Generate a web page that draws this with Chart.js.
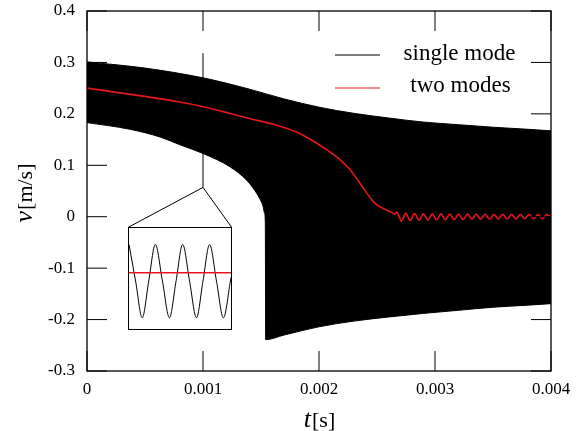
<!DOCTYPE html>
<html>
<head>
<meta charset="utf-8">
<script src="https://cdn.jsdelivr.net/npm/chart.js@4.4.1/dist/chart.umd.min.js"></script>
<style>
  html, body { margin: 0; padding: 0; background: #fff; }
  #wrap { position: relative; width: 577px; height: 431px; }
  #inset { position: absolute; border: 1px solid #000; background: #fff; box-sizing: border-box; }
  #inset canvas { display: block; }
</style>
</head>
<body>
<div id="wrap">
  <canvas id="main" width="577" height="431"></canvas>
  <div id="inset"><canvas id="zoom"></canvas></div>
</div>
<script>
// tick values
const xTicks = [0, 0.001, 0.002, 0.003, 0.004];
const yTicks = [-0.3, -0.2, -0.1, 0, 0.1, 0.2, 0.3, 0.4];

// single mode: the fast oscillation is only seen as a band, so keep its upper and lower edges
const upperT = [0, 0.0005, 0.001, 0.0014, 0.0017, 0.002, 0.0023, 0.0026, 0.0029, 0.0032, 0.0035, 0.0038, 0.004];
const upperV = [0.301, 0.289, 0.270, 0.248, 0.229, 0.213, 0.201, 0.192, 0.184, 0.179, 0.174, 0.170, 0.167];
const lowerT = [0, 0.00037, 0.00063, 0.0008, 0.001, 0.001233, 0.001379, 0.001431, 0.001491, 0.001517, 0.00153, 0.001537, 0.001541,
  0.0017, 0.002, 0.0023, 0.0026, 0.0029, 0.0032, 0.0035, 0.0038, 0.004];
const lowerV = [0.183, 0.170, 0.155, 0.140, 0.123, 0.097, 0.0705, 0.056, 0.0344, 0.0208, 0.0072, -0.0103, -0.239,
  -0.230, -0.214, -0.203, -0.195, -0.188, -0.182, -0.176, -0.172, -0.169];

// two modes (red curve)
const twoT = [0, 0.0005, 0.0008, 0.001, 0.00123, 0.0014, 0.0016, 0.0018, 0.00192, 0.0021, 0.00216, 0.00227,
  0.00235, 0.00247, 0.0025, 0.00259, 0.00264, 0.002655, 0.00267, 0.002684,
  0.00271, 0.002748, 0.002786, 0.002824, 0.002862, 0.0029, 0.002938, 0.002976, 0.003014, 0.003052,
  0.00309, 0.003128, 0.003166, 0.003204, 0.003242, 0.00328, 0.003318, 0.003356, 0.003394, 0.003432,
  0.00347, 0.003508, 0.003546, 0.003584, 0.003622, 0.00366, 0.003698, 0.003736, 0.003774, 0.003812,
  0.00385, 0.003888, 0.003926, 0.003964, 0.004];
const twoV = [0.250, 0.234, 0.223, 0.214, 0.201, 0.191, 0.180, 0.165, 0.151, 0.125, 0.115, 0.091,
  0.066, 0.029, 0.023, 0.012, 0.007, 0.005, 0.009, 0.004,
  -0.0085, 0.0065, -0.0075, 0.006, -0.007, 0.0058, -0.0065, 0.0055, -0.006, 0.0055,
  -0.006, 0.005, -0.0055, 0.005, -0.0055, 0.005, -0.005, 0.0048, -0.005, 0.0048,
  -0.005, 0.0045, -0.0045, 0.0045, -0.0045, 0.0045, -0.0045, 0.0042, -0.004, 0.0042,
  -0.004, 0.004, -0.004, 0.004, 0.0];

// inset: a few periods of the single-mode signal, local units
const insetX = [0, 6.7, 13.4, 20, 26.7, 33.9, 41, 47.7, 54.4, 61.4, 68.4, 75, 81.7, 88.7, 95.7, 102.8, 103.4];
const insetSingle = [1, 0, -1, 0, 1, 0, -1, 0, 1, 0, -1, 0, 1, 0, -1, 0, 0.1];
const insetTwoX = [0, 103.4];
const insetTwo = [0.23, 0.23];

const RED = 'rgb(232,22,26)';
const serif = "'Liberation Serif', 'Times New Roman', serif";
Chart.defaults.font.family = serif;
Chart.defaults.color = '#000';

// where the zoom box and its pointer sit, in data units of the main plot
const insetFrame = { t0: 0.000356, t1: 0.001247, vTop: -0.0206, vBot: -0.220 };
const pointer = { t: 0.001, vApex: 0.057, vTop: 0.318 };

const pts = (xs, ys) => xs.map((x, i) => ({ x: x, y: ys[i] }));

const frame = {
  id: 'frame',
  beforeDatasetsDraw(c) {
    const ctx = c.ctx, xs = c.scales.x, ys = c.scales.y;
    const ax = xs.getPixelForValue(pointer.t), ay = ys.getPixelForValue(pointer.vApex);
    const l = xs.getPixelForValue(insetFrame.t0), r = xs.getPixelForValue(insetFrame.t1);
    const t = ys.getPixelForValue(insetFrame.vTop);
    ctx.save();
    ctx.strokeStyle = '#000';
    ctx.lineWidth = 1;
    ctx.beginPath();
    ctx.moveTo(ax, ys.getPixelForValue(pointer.vTop));
    ctx.lineTo(ax, ay);
    ctx.moveTo(l, t); ctx.lineTo(ax, ay); ctx.lineTo(r, t);
    ctx.stroke();
    ctx.restore();
  },
  afterDatasetsDraw(c) {
    const ctx = c.ctx, a = c.chartArea, xs = c.scales.x, ys = c.scales.y;
    ctx.save();
    ctx.strokeStyle = '#000';
    ctx.lineWidth = 1;
    ctx.beginPath();
    xTicks.forEach(v => {
      const p = xs.getPixelForValue(v);
      ctx.moveTo(p, a.bottom); ctx.lineTo(p, a.bottom - 20);
      ctx.moveTo(p, a.top); ctx.lineTo(p, a.top + 20);
    });
    yTicks.forEach(v => {
      const p = ys.getPixelForValue(v);
      ctx.moveTo(a.left, p); ctx.lineTo(a.left + 20, p);
      ctx.moveTo(a.right, p); ctx.lineTo(a.right - 20, p);
    });
    ctx.stroke();
    ctx.lineWidth = 1.3;
    ctx.strokeRect(a.left, a.top, a.right - a.left, a.bottom - a.top);
    ctx.restore();
  },
  afterDraw(c) {
    const ctx = c.ctx;
    ctx.save();
    // legend
    ctx.lineWidth = 1.2;
    ctx.strokeStyle = '#000';
    ctx.beginPath(); ctx.moveTo(335, 55); ctx.lineTo(380, 55); ctx.stroke();
    ctx.strokeStyle = RED;
    ctx.beginPath(); ctx.moveTo(335, 88); ctx.lineTo(380, 88); ctx.stroke();
    ctx.fillStyle = '#000';
    ctx.font = '23px ' + serif;
    ctx.textAlign = 'center';
    ctx.textBaseline = 'alphabetic';
    ctx.fillText('single mode', 459.5, 60);
    ctx.fillText('two modes', 460.5, 92);

    // axis titles: italic symbol + upright unit
    const title = (sym, unit, cx, cy) => {
      ctx.font = 'italic 26px ' + serif;
      const w1 = ctx.measureText(sym).width;
      ctx.font = '22px ' + serif;
      const w2 = ctx.measureText(unit).width;
      const x0 = cx - (w1 + w2 + 1) / 2;
      ctx.textAlign = 'left';
      ctx.font = 'italic 26px ' + serif;
      ctx.fillText(sym, x0, cy);
      ctx.font = '22px ' + serif;
      ctx.fillText(unit, x0 + w1 + 1, cy);
    };
    title('t', '[s]', 319.5, 427);
    ctx.translate(32, 193);
    ctx.rotate(-Math.PI / 2);
    title('v', '[m/s]', 0, 0);
    ctx.restore();
  }
};

const chart = new Chart(document.getElementById('main'), {
  type: 'line',
  data: {
    datasets: [
      { label: 'two modes', data: pts(twoT, twoV), borderColor: RED, borderWidth: 1.6,
        pointRadius: 0, cubicInterpolationMode: 'monotone', fill: false },
      { label: 'single mode', data: pts(upperT, upperV), borderColor: '#000', borderWidth: 1,
        pointRadius: 0, cubicInterpolationMode: 'monotone', fill: false },
      { label: 'single mode (lower)', data: pts(lowerT, lowerV), borderColor: '#000', backgroundColor: '#000',
        borderWidth: 1, pointRadius: 0, cubicInterpolationMode: 'monotone', fill: '-1' }
    ]
  },
  options: {
    responsive: false,
    animation: false,
    layout: { padding: { top: 11, right: 26, left: 0, bottom: 0 } },
    plugins: { legend: { display: false }, tooltip: { enabled: false } },
    scales: {
      x: {
        type: 'linear', min: 0, max: 0.004,
        afterBuildTicks: s => { s.ticks = xTicks.map(v => ({ value: v })); },
        afterFit: s => { s.height = 60; s.paddingLeft = 0; s.paddingRight = 0; },
        grid: { display: false, drawTicks: false },
        border: { display: false },
        ticks: { color: '#000', padding: 8, maxRotation: 0, font: { family: serif, size: 17 },
          callback: v => String(+v.toFixed(3)) }
      },
      y: {
        type: 'linear', min: -0.3, max: 0.4,
        afterBuildTicks: s => { s.ticks = yTicks.map(v => ({ value: v })); },
        afterFit: s => { s.width = 87; s.paddingTop = 0; s.paddingBottom = 0; },
        grid: { display: false, drawTicks: false },
        border: { display: false },
        ticks: { color: '#000', padding: 12, font: { family: serif, size: 17 },
          callback: v => String(+v.toFixed(1)) }
      }
    }
  },
  plugins: [frame]
});

// place the zoom box from the main scales, then draw its own small chart
const xs = chart.scales.x, ys = chart.scales.y;
const L = xs.getPixelForValue(insetFrame.t0), R = xs.getPixelForValue(insetFrame.t1);
const T = ys.getPixelForValue(insetFrame.vTop), B = ys.getPixelForValue(insetFrame.vBot);
const box = document.getElementById('inset');
box.style.left = (L - 0.5) + 'px';
box.style.top = (T - 0.5) + 'px';
box.style.width = (R - L + 1) + 'px';
box.style.height = (B - T + 1) + 'px';
const zc = document.getElementById('zoom');
zc.width = Math.round(R - L - 1);
zc.height = Math.round(B - T - 1);

new Chart(zc, {
  type: 'line',
  data: {
    datasets: [
      { data: pts(insetTwoX, insetTwo), borderColor: RED, borderWidth: 1.4, pointRadius: 0 },
      { data: pts(insetX, insetSingle), borderColor: '#000', borderWidth: 1, pointRadius: 0,
        cubicInterpolationMode: 'monotone' }
    ]
  },
  options: {
    responsive: false,
    animation: false,
    layout: { padding: 0 },
    plugins: { legend: { display: false }, tooltip: { enabled: false } },
    scales: {
      x: { type: 'linear', display: false, min: 0, max: 103.4 },
      y: { type: 'linear', display: false, min: -1.335, max: 1.45 }
    }
  }
});
</script>
</body>
</html>
